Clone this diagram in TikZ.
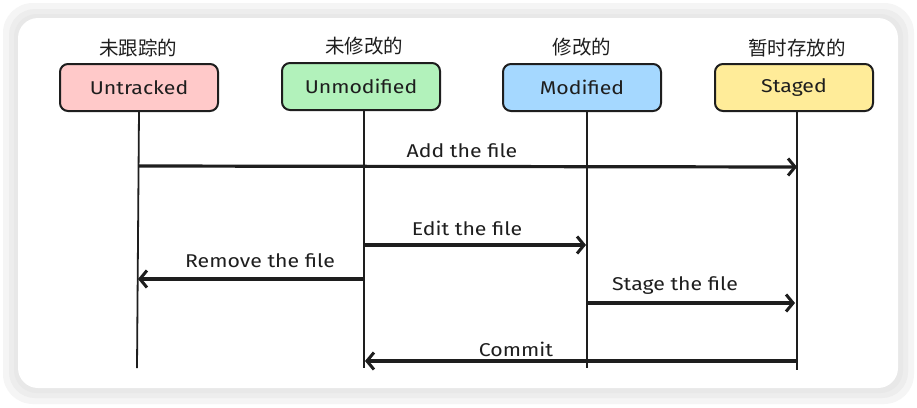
\documentclass[tikz,border=0pt]{standalone}
\usepackage{fontspec}
\setmainfont{Fira Sans}
\newfontfamily\hand[FakeStretch=1.15]{Fira Sans}
\newfontfamily\cjk{Noto Sans CJK SC}
\usetikzlibrary{arrows.meta}
\definecolor{cUntr}{HTML}{FFC9C9}
\definecolor{cUnmod}{HTML}{B2F2BB}
\definecolor{cMod}{HTML}{A5D8FF}
\definecolor{cStaged}{HTML}{FFEC99}
\definecolor{ink}{HTML}{1E1E1E}
\begin{document}
\begin{tikzpicture}[x=1pt,y=-1pt,
  statebox/.style={draw=ink,line width=2pt,rounded corners=8pt,minimum width=158pt,minimum height=47pt,font=\hand\fontsize{18.5}{21}\selectfont,text=ink,inner sep=0pt},
  cnlabel/.style={font=\cjk\fontsize{19.5}{22}\selectfont,text=ink,inner sep=0pt},
  lifeline/.style={draw=ink,line width=1.8pt},
  msg/.style={draw=ink,line width=3.2pt,-{Straight Barb[length=7pt,width=17pt,line width=3pt]}},
  msglabel/.style={font=\hand\fontsize{18.5}{21}\selectfont,text=ink,inner sep=0pt}]
\useasboundingbox (0,0) rectangle (917,407);
\fill[white] (0,0) rectangle (917,407);
\fill[black!4,rounded corners=30pt] (3,3) rectangle (914,404);
\fill[black!7,rounded corners=26pt] (9,9) rectangle (908,398);
\fill[black!9,rounded corners=23pt] (14,14) rectangle (903,393);
\fill[white,rounded corners=20pt] (18,18) rectangle (898,388);

\node[statebox,fill=cUntr] (untr) at (139,87.5) {Untracked};
\node[statebox,fill=cUnmod] (unmod) at (361,86.5) {Unmodified};
\node[statebox,fill=cMod] (mod) at (582,87.5) {Modified};
\node[statebox,fill=cStaged] (stg) at (794,87.5) {Staged};

\node[cnlabel] (l1) at (138,48) {未跟踪的};
\node[cnlabel] (l2) at (364,46) {未修改的};
\node[cnlabel] (l3) at (582,47) {修改的};
\node[cnlabel] (l4) at (797,48) {暂时存放的};

\coordinate (e1) at (137,368);
\coordinate (e2) at (364,368);
\coordinate (e3) at (587,368);
\coordinate (e4) at (797,370);
\draw[lifeline] (139,111) -- (e1);
\draw[lifeline] (364,110) -- (e2);
\draw[lifeline] (587,111) -- (e3);
\draw[lifeline] (797,111) -- (e4);

\coordinate (a1) at (139,166);
\coordinate (a2) at (797,167);
\draw[msg] (a1) -- (a2);
\node[msglabel] (t1) at (462,151) {Add the file};

\coordinate (b1) at (364,245);
\coordinate (b2) at (586,245);
\draw[msg] (b1) -- (b2);
\node[msglabel] (t2) at (467,228) {Edit the file};

\coordinate (c1) at (363,279);
\coordinate (c2) at (138,279);
\draw[msg] (c1) -- (c2);
\node[msglabel] (t3) at (260,261) {Remove the file};

\coordinate (d1) at (587,303);
\coordinate (d2) at (795,303);
\draw[msg] (d1) -- (d2);
\node[msglabel] (t4) at (675,286) {Stage the file};

\coordinate (f1) at (797,361);
\coordinate (f2) at (365,361);
\draw[msg] (f1) -- (f2);
\node[msglabel] (t5) at (516,349) {Commit};
\end{tikzpicture}
\end{document}
